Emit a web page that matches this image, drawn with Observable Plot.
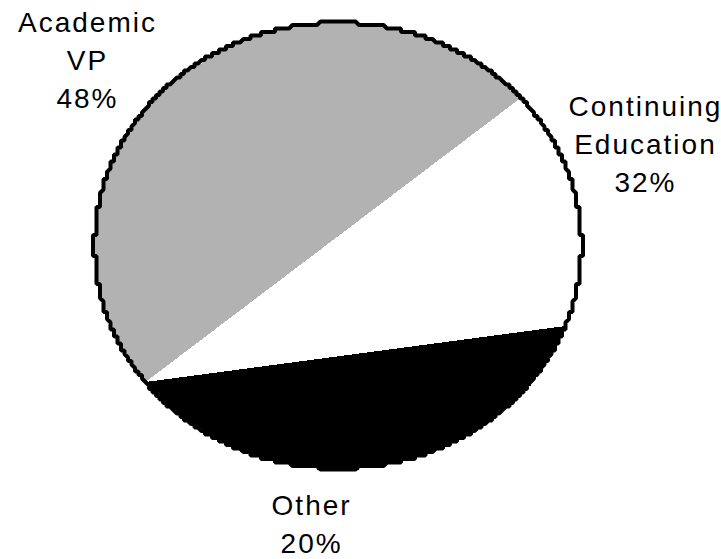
<!DOCTYPE html>
<html>
<head>
<meta charset="utf-8">
<script src="https://cdn.jsdelivr.net/npm/d3@7"></script>
<script src="https://cdn.jsdelivr.net/npm/@observablehq/plot@0.6"></script>
<style>
  html, body { margin: 0; padding: 0; background: #fff; }
</style>
</head>
<body>
<div id="chart"></div>
<script>
// Budget shares by area
const categories = ["Academic VP", "Continuing Education", "Other"];
const shares = [48, 32, 20];

// Styling and layout
const fills = ["#b2b2b2", "#ffffff", "#000000"];
const W = 721, H = 559;
const CX = 337.5, CY = 245, RX = 243.5, RY = 223; // ellipse centre and radii, px
const STEP = 3.5;                                  // pixel grid the rim is snapped to
const START = 232 * Math.PI / 180;                 // rim point where every wedge meets
const labelPos = [{a: 308.3, r: 1.311}, {a: 70.8, r: 1.337}, {a: 184.9, r: 1.27}];

// Arc span of a chord from the start point that cuts off fraction f of the disc
function chordAngle(f) {
  let lo = 0, hi = 2 * Math.PI;
  for (let i = 0; i < 60; i++) {
    const m = (lo + hi) / 2;
    if (m - Math.sin(m) < 2 * Math.PI * f) lo = m; else hi = m;
  }
  return (lo + hi) / 2;
}

// Unit-circle rim point (t = 0 at top, clockwise), snapped to the coarse grid
const gx = STEP / RX, gy = STEP / RY;
const snap = (v, g) => Math.round(v / g) * g;
const rim = t => ({x: snap(Math.sin(t), gx), y: snap(Math.cos(t), gy)});
function arc(t0, t1) {
  const n = Math.max(2, Math.ceil(Math.abs(t1 - t0) / (Math.PI / 720)));
  const pts = [];
  for (let i = 0; i <= n; i++) {
    const p = rim(t0 + (t1 - t0) * i / n);
    const q = pts[pts.length - 1];
    if (!q || q.x !== p.x || q.y !== p.y) pts.push(p);
  }
  return pts;
}

const total = d3.sum(shares);
const cum = Array.from(d3.cumsum(shares), v => v / total);
const bounds = [0, ...cum.map(chordAngle)];
const apex = rim(START);

const slices = categories.map((name, i) =>
  [apex, ...arc(START + bounds[i], START + bounds[i + 1])].map(p => ({...p, name}))
);
const outline = arc(0, 2 * Math.PI);

const labels = categories.map((name, i) => {
  const a = labelPos[i].a * Math.PI / 180, r = labelPos[i].r;
  return {
    text: name.split(" ").join("\n") + "\n" + shares[i] + "%",
    x: r * Math.sin(a),
    y: r * Math.cos(a)
  };
});

const chart = Plot.plot({
  width: W,
  height: H,
  margin: 0,
  x: {domain: [-CX / RX, (W - CX) / RX], axis: null},
  y: {domain: [(CY - H) / RY, CY / RY], axis: null},
  style: {
    background: "#fff",
    fontFamily: "'Liberation Sans', Arial, sans-serif",
    letterSpacing: "2px",
    overflow: "visible"
  },
  marks: [
    ...slices.map((s, i) => Plot.line(s, {
      x: "x", y: "y", fill: fills[i], stroke: "none",
      curve: "linear-closed", shapeRendering: "crispEdges"
    })),
    Plot.line(outline, {
      x: "x", y: "y", stroke: "#000", strokeWidth: 4,
      curve: "linear-closed", strokeLinejoin: "miter", fill: "none"
    }),
    Plot.text(labels, {
      x: "x", y: "y", text: "text", dy: -6,
      fontSize: 28, lineHeight: 38 / 28, fill: "#000"
    })
  ]
});

document.getElementById("chart").append(chart);
</script>
</body>
</html>
